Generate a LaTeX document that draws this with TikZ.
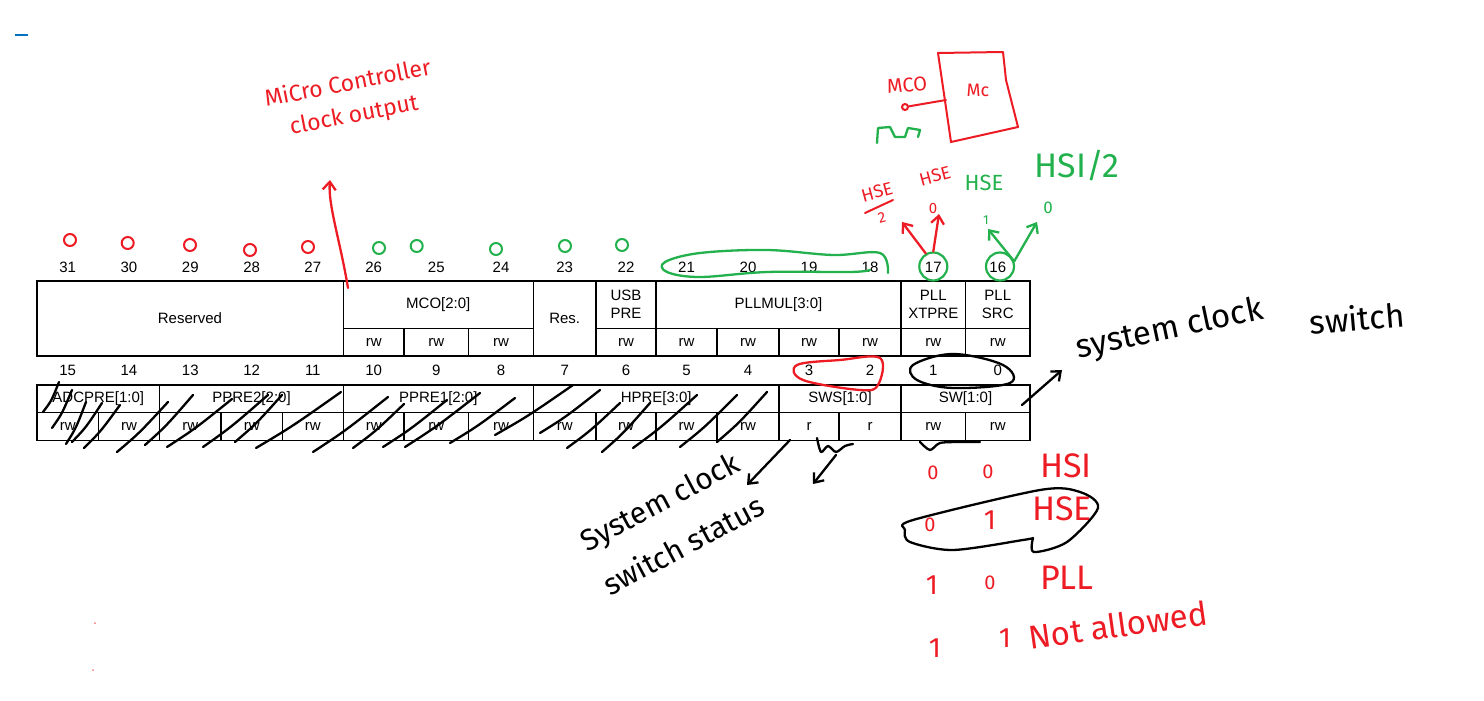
\documentclass[tikz,border=0pt]{standalone}
\usepackage{fontspec}
\setmainfont{Liberation Sans}
\newfontfamily\hand{Fira Sans}
\usetikzlibrary{positioning,arrows.meta,calc}
\definecolor{penred}{RGB}{237,28,36}
\definecolor{pengreen}{RGB}{34,177,76}
\definecolor{penblue}{RGB}{0,112,192}
\newcommand\scrawl[2]{\hand\fontsize{#1}{#2}\selectfont}

\begin{document}
\begin{tikzpicture}[x=1pt,y=-1pt,
  reg/.style={line width=1.1pt},
  ink/.style={line width=2.3pt, line cap=round, line join=round},
  inkarrow/.style={ink, -{Straight Barb[length=8pt,width=13pt]}},
  bitno/.style={font=\fontsize{15}{18}\selectfont, inner sep=0pt},
  field/.style={font=\fontsize{15}{18}\selectfont, align=center, inner sep=0pt},
  zero/.style={circle, draw, line width=2pt, minimum size=12pt, inner sep=0pt},
  ring/.style={circle, draw=pengreen, line width=2.2pt, minimum size=28pt, inner sep=0pt},
  note/.style={inner sep=0pt}]
\useasboundingbox (0,0) rectangle (1484,701);

% register, bits 31..16
\draw[reg] (37,281) rectangle (1030,356);
\foreach \x in {343.3,533.3,596,656,901,965.7} \draw[reg] (\x,281) -- (\x,356);
\draw[reg] (343.3,328.3) -- (533.3,328.3);
\draw[reg] (596,328.3) -- (1030,328.3);
\foreach \x in {404,468.7,717,779,839} \draw[reg] (\x,328.3) -- (\x,356);

% register, bits 15..0
\draw[reg] (37,385) rectangle (1030,440.7);
\draw[reg] (37,412.7) -- (1030,412.7);
\foreach \x in {159.7,343.3,533.3,779,901} \draw[reg] (\x,385) -- (\x,440.7);
\foreach \x in {98.3,221,282.3,404,468.7,596,656,717,839,965.7} \draw[reg] (\x,412.7) -- (\x,440.7);

% bit numbers
\foreach \n/\x in {31/67.7,30/129,29/190.3,28/251.7,27/312.8,26/373.7,25/436.3,24/501,
    23/564.7,22/626,21/686.5,20/748,19/809,18/870,17/933.3,16/997.8}
  \node[bitno] (b\n) at (\x,267) {\n};
\foreach \n/\x in {15/67.7,14/129,13/190.3,12/251.7,11/312.8,10/373.7,9/436.3,8/501,
    7/564.7,6/626,5/686.5,4/748,3/809,2/870,1/933.3,0/997.8}
  \node[bitno] (b\n) at (\x,370) {\n};

% field names
\node[field] (reserved) at (190,318.5) {Reserved};
\node[field] (mco) at (438.3,304.7) {MCO[2:0]};
\node[field] (res) at (564.7,318.5) {Res.};
\node[field] (usbpre) at (626,304.7) {USB\\PRE};
\node[field] (pllmul) at (778.5,304.7) {PLLMUL[3:0]};
\node[field] (pllxtpre) at (933.3,304.7) {PLL\\XTPRE};
\node[field] (pllsrc) at (997.8,304.7) {PLL\\SRC};
\foreach \x [count=\i] in {373.7,436.3,501,626,686.5,748,809,870,933.3,997.8}
  \node[field] (rwa\i) at (\x,342) {rw};

\node[field] (adcpre) at (98.3,398.8) {ADCPRE[1:0]};
\node[field] (ppre2) at (251.5,398.8) {PPRE2[2:0]};
\node[field] (ppre1) at (438.3,398.8) {PPRE1[2:0]};
\node[field] (hpre) at (656.2,398.8) {HPRE[3:0]};
\node[field] (sws) at (840,398.8) {SWS[1:0]};
\node[field] (sw) at (965.5,398.8) {SW[1:0]};
\foreach \x/\a [count=\i] in {67.7/rw,129/rw,190.3/rw,251.7/rw,312.8/rw,373.7/rw,436.3/rw,501/rw,
    564.7/rw,626/rw,686.5/rw,748/rw,809/r,870/r,933.3/rw,997.8/rw}
  \node[field] (rwb\i) at (\x,426.7) {\a};

% scribbles over bits 15..4
\foreach \ax/\ay/\bx/\by in {43/412/59/382, 52/428/72/390, 66/444/86/402, 72/442/102/403,
    84/448/120/405, 117/452/168/402, 145/445/193/395, 167/447/232/399, 203/447/268/395,
    235/442/282/395, 256/448/341/392, 313/452/388/397, 353/448/404/404, 383/447/447/400,
    405/447/480/393, 450/443/515/398, 495/435/573/385, 540/433/600/390, 567/448/620/403,
    602/452/650/403, 633/448/697/395, 680/447/737/395, 717/442/767/392}
  \draw[ink, line width=2.3pt] (\ax,\ay) .. controls ($(\ax,\ay)!0.4!(\bx,\by)+(2,1)$) .. (\bx,\by);

% zeros above bits 31..22
\foreach \x/\y in {70/240,127.7/243,190/245,250/250,308/247}
  \node[zero, draw=penred] at (\x,\y) {};
\foreach \x/\y in {379/248,416.7/246,496/249,565/246,622/245}
  \node[zero, draw=pengreen] at (\x,\y) {};

% MCO note
\node[note, text=penred, rotate=11, align=center, font=\scrawl{23}{32}] (mcnote) at (351,100) {MiCro Controller\\clock output};
\coordinate (mcofoot) at (348,288);
\coordinate (mcohead) at (330,180);
\draw[inkarrow, penred] (mcofoot) .. controls (340,240) and (328,205) .. (mcohead);

% microcontroller sketch
\draw[ink, penred, line width=2pt] (938,53) -- (1003,52) -- (1006,80) -- (1018,127) -- (951,142) -- cycle;
\node[note, text=penred, font=\scrawl{18}{18}] (mc) at (978,90) {Mc};
\node[note, text=penred, rotate=5, font=\scrawl{20}{20}] (mcolabel) at (907,85) {MCO};
\node[circle, draw=penred, line width=2pt, minimum size=6pt, inner sep=0pt] (mcopin) at (905,107) {};
\coordinate (mcboxw) at (946,100);
\draw[ink, penred, line width=2pt] (mcopin) -- (mcboxw);
\draw[ink, pengreen] (877,143) -- (878,128) -- (890,127) -- (895,137) -- (905,137) -- (908,128) -- (920,130) -- (918,137);

% PLL XTPRE / PLL SRC choices
\node[ring] (ring17) at (933.3,266.5) {};
\node[ring] (ring16) at (1000,266.5) {};
\node[note, text=penred, rotate=15, font=\scrawl{18}{18}] (hsehalf) at (877,192) {HSE};
\draw[ink, penred, line width=2pt] (865,213) -- (893,200);
\node[note, text=penred, rotate=15, font=\scrawl{15}{15}] (two) at (882,218) {2};
\node[note, text=penred, rotate=15, font=\scrawl{18}{18}] (hsered) at (935,176) {HSE};
\node[note, text=penred, font=\scrawl{15}{15}] (zero17) at (933,208) {0};
\coordinate (hsehalfhead) at (902,222);
\coordinate (hseredhead) at (939,214);
\draw[inkarrow, penred] (ring17.120) -- (hsehalfhead);
\draw[inkarrow, penred] (ring17.90) -- (hseredhead);

\node[note, text=pengreen, font=\scrawl{22}{22}] (hsegreen) at (984,183) {HSE};
\node[note, text=pengreen, font=\scrawl{34}{34}] (hsihalf) at (1077,166) {HSI/2};
\node[note, text=pengreen, font=\scrawl{13}{13}] (one16) at (986,220) {1};
\node[note, text=pengreen, font=\scrawl{17}{17}] (zero16) at (1048,208) {0};
\coordinate (hsegreenhead) at (988,229);
\coordinate (hsihead) at (1037,222);
\draw[inkarrow, pengreen] (ring16.20) -- (hsegreenhead);
\draw[inkarrow, pengreen] (ring16.20) -- (hsihead);

% loops round the bit numbers
\draw[ink, pengreen] plot[smooth, tension=0.6] coordinates {(888,273) (880,253) (833,255) (767,250) (700,253)
    (665,262) (667,272) (700,277) (767,272) (850,272) (870,270)};
\draw[ink, penred] plot[smooth cycle, tension=0.6] coordinates {(797,365) (840,360) (880,358) (878,385) (860,390) (803,380)};
\draw[ink] plot[smooth cycle, tension=0.6] coordinates {(913,365) (953,354) (1003,365) (1010,383) (953,388) (917,380)};

% system clock switch
\node[note, rotate=12, font=\scrawl{33}{33}] (swnote) at (1170,330) {system clock};
\node[note, rotate=5, font=\scrawl{33}{33}] (swnote2) at (1357,318) {switch};
\coordinate (swtail) at (1022,405);
\coordinate (swhead) at (1062,370);
\draw[inkarrow] (swtail) -- (swhead);

% system clock switch status
\node[note, rotate=28, align=left, font=\scrawl{30}{50}] (swsnote) at (672,523) {System clock\\switch status};
\coordinate (swstail) at (790,440);
\coordinate (swshead) at (747,485);
\draw[inkarrow] (swstail) -- (swshead);
\draw[ink] plot[smooth, tension=0.5] coordinates {(817,438) (821,452) (828,446) (836,452) (845,446) (853,444)};
\coordinate (swstail2) at (836,455);
\coordinate (swshead2) at (813,484);
\draw[inkarrow] (swstail2) -- (swshead2);
\draw[ink] plot[smooth, tension=0.5] coordinates {(920,442) (930,450) (940,443) (960,442) (980,442)};

% SW values
\foreach \x/\y/\t/\s [count=\i] in {933/473/0/20, 988/472/0/20, 930/525/0/20, 990/520/1/28,
    932/585/1/28, 990/583/0/20, 935/648/1/28, 1005/638/1/28}
  \node[note, text=penred, font=\scrawl{\s}{\s}] (swbit\i) at (\x,\y) {\t};
\node[note, text=penred, font=\scrawl{34}{34}] (hsi) at (1066,466) {HSI};
\node[note, text=penred, font=\scrawl{34}{34}] (hse) at (1062,509) {HSE};
\node[note, text=penred, font=\scrawl{34}{34}] (pll) at (1067,578) {PLL};
\node[note, text=penred, rotate=8, font=\scrawl{33}{33}] (notallowed) at (1118,625) {Not allowed};
\draw[ink] plot[smooth, tension=0.5] coordinates {(1033,538) (1034,552) (1067,542) (1098,508) (1080,492)
    (1040,490) (913,520) (905,530) (910,542) (953,550) (1023,540) (1033,538)};

% stray marks
\draw[penblue, line width=1.2pt] (15,35) -- (28,35);
\fill[penred!60] (95,623) circle (1);
\fill[penred!60] (93,670) circle (1);
\end{tikzpicture}
\end{document}
